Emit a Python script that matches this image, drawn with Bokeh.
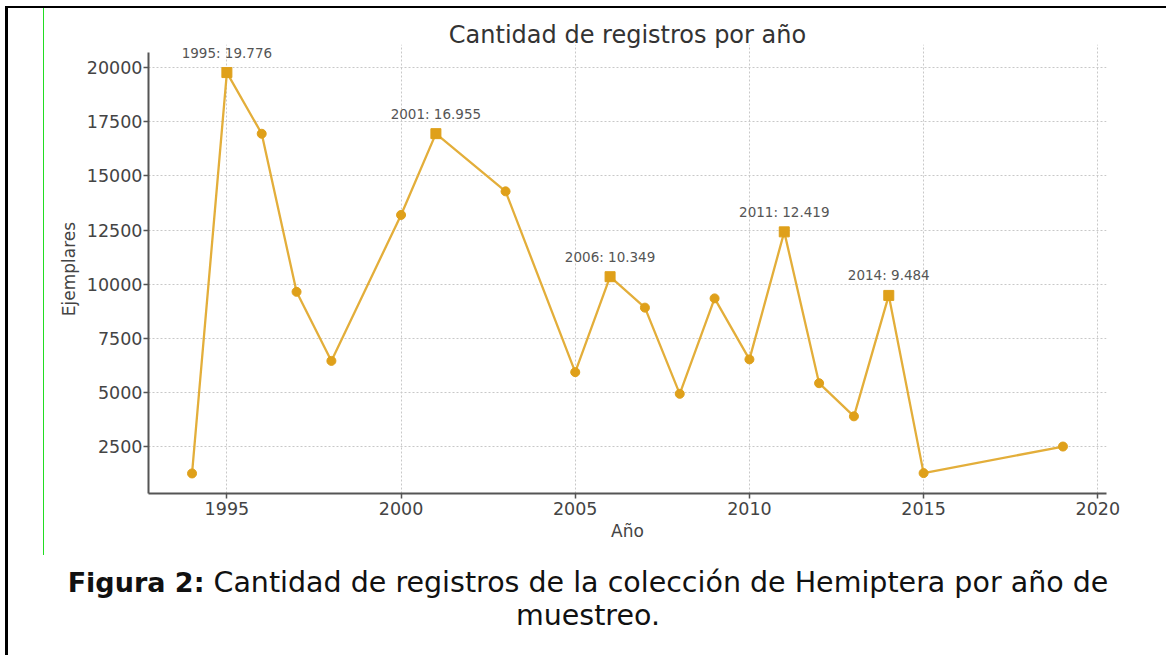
from bokeh.plotting import figure
from bokeh.models import (Range1d, FixedTicker, ColumnDataSource, LabelSet,
                          BasicTickFormatter, Div, Spacer)
from bokeh.layouts import column, row
from bokeh.core.properties import value
from bokeh.embed import file_html
from bokeh.resources import INLINE

# ---- data ----
years = [1994, 1995, 1996, 1997, 1998, 2000, 2001, 2003, 2005, 2006, 2007, 2008,
         2009, 2010, 2011, 2012, 2013, 2014, 2015, 2019]
counts = [1262, 19776, 16950, 9650, 6460, 13200, 16955, 14290, 5940, 10349, 8920, 4940,
          9347, 6530, 12419, 5430, 3900, 9484, 1278, 2505]
highlight_years = [1995, 2001, 2006, 2011, 2014]
x_ticks = [1995, 2000, 2005, 2010, 2015, 2020]
y_ticks = [2500, 5000, 7500, 10000, 12500, 15000, 17500, 20000]

title_text = "Cantidad de registros por año"
x_label = "Año"
y_label = "Ejemplares"
caption_bold = "Figura 2:"
caption_line1 = "Cantidad de registros de la colección de Hemiptera por año de"
caption_line2 = "muestreo."

FONT = "DejaVu Sans"
MARK = "#DFA01A"
LINE = "#E3AE3A"

hl_counts = [counts[years.index(y)] for y in highlight_years]
hl_text = [f"{y}: {c:,}".replace(",", ".") for y, c in zip(highlight_years, hl_counts)]
normal_years = [y for y in years if y not in highlight_years]
normal_counts = [c for y, c in zip(years, counts) if y not in highlight_years]

xspan = max(years) - min(years)
span = max(counts) - min(counts)
y_lo = min(counts) - 0.05 * span
y_hi = max(counts) + 0.05 * span

p = figure(width=1100, height=547, output_backend="svg", toolbar_location=None,
           x_range=Range1d(min(years) - 0.05 * xspan, max(years) + 0.05 * xspan),
           y_range=Range1d(y_lo, max(counts) + 0.07 * span),
           min_border_left=104, min_border_right=38, min_border_top=36,
           min_border_bottom=62)
p.outline_line_color = None
p.background_fill_color = "white"
p.border_fill_color = "white"

p.title.text = title_text
p.title.align = "center"
p.title.text_font = FONT
p.title.text_font_size = "24px"
p.title.text_font_style = "normal"
p.title.text_color = "#333333"
p.title.standoff = -8

p.xaxis.ticker = FixedTicker(ticks=x_ticks)
p.yaxis.ticker = FixedTicker(ticks=y_ticks)
p.yaxis.formatter = BasicTickFormatter(use_scientific=False)
p.yaxis.bounds = (y_lo, y_hi)
for ax in (p.xaxis, p.yaxis):
    ax.axis_line_color = "#555555"
    ax.axis_line_width = 2
    ax.major_tick_line_color = "#555555"
    ax.major_tick_line_width = 1.5
    ax.major_tick_out = 5
    ax.major_tick_in = 0
    ax.minor_tick_line_color = None
    ax.major_label_text_font = FONT
    ax.major_label_text_font_size = "17.5px"
    ax.major_label_text_color = "#444444"
    ax.axis_label_text_font = FONT
    ax.axis_label_text_font_size = "17px"
    ax.axis_label_text_font_style = "normal"
    ax.axis_label_text_color = "#444444"
p.xaxis.axis_label = x_label
p.yaxis.axis_label = y_label
p.xaxis.major_label_standoff = 3
p.yaxis.major_label_standoff = 1
p.xaxis.axis_label_standoff = 3
p.yaxis.axis_label_standoff = 5

for g in (p.xgrid, p.ygrid):
    g.grid_line_color = "#c8c8c8"
    g.grid_line_dash = "2 2"
    g.grid_line_width = 1

p.line(years, counts, line_color=LINE, line_width=2.3)
p.scatter(normal_years, normal_counts, marker="circle", size=9,
          fill_color=MARK, line_color=MARK)
p.scatter(highlight_years, hl_counts, marker="square", size=10,
          fill_color=MARK, line_color=MARK)

src = ColumnDataSource(dict(x=highlight_years, y=hl_counts, t=hl_text))
p.add_layout(LabelSet(x="x", y="y", text="t", source=src, y_offset=15,
                      text_align="center", text_baseline="alphabetic",
                      text_font=value(FONT), text_font_size="13.5px",
                      text_color="#555555"))

caption = Div(
    text=(f'<div style="font-family: \'{FONT}\'; font-size: 28.5px; line-height: 33px; '
          f'text-align: center; color: #111; padding-top: 6px; width: 1150px;">'
          f'<b style="font-size: 27px;">{caption_bold}</b> {caption_line1}<br>'
          f'{caption_line2}</div>'),
    width=1150, height=100)

chart_row = row(Spacer(width=35, height=547),
                Spacer(width=1, height=547, styles={"background-color": "#22dd22"}),
                p)
layout = column(chart_row, caption,
                styles={"margin-left": "5px", "margin-top": "6px",
                        "border-left": "3px solid black",
                        "border-top": "2px solid black"})

open("out.html", "w").write(file_html(layout, INLINE))
